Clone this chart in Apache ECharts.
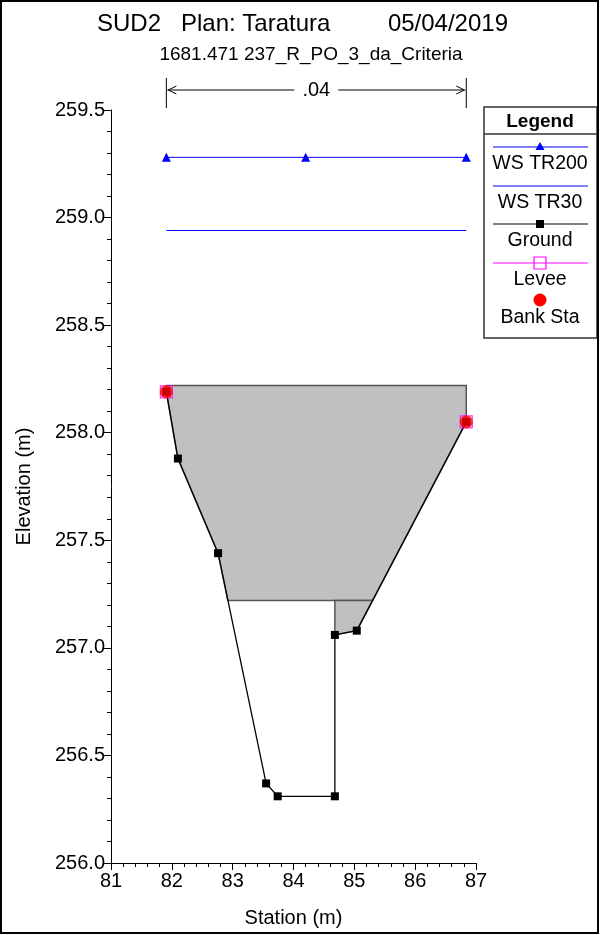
<!DOCTYPE html>
<html><head><meta charset="utf-8">
<script src="https://cdn.jsdelivr.net/npm/echarts/dist/echarts.min.js"></script>
<style>html,body{margin:0;padding:0;background:#fff}#c{width:600px;height:935px}</style>
</head><body><div id="c"></div>
<script>
// ---- data ----
const titleParts = ['SUD2', 'Plan: Taratura', '05/04/2019'];
const subtitle = '1681.471 237_R_PO_3_da_Criteria';
const xMin = 81, xMax = 87, xStep = 1;
const yMin = 256.0, yMax = 259.5, yStep = 0.5;
const groundX = [81.91, 82.10, 82.76, 83.55, 83.74, 84.68, 84.68, 85.04, 86.84];
const groundY = [258.19, 257.88, 257.44, 256.37, 256.31, 256.31, 257.06, 257.08, 258.05];
const wsTR200X = [81.91, 84.20, 86.84];
const wsTR200Y = [259.28, 259.28, 259.28];
const wsTR30X = [81.91, 86.84];
const wsTR30Y = [258.94, 258.94];
const leveeX = [81.91, 86.84];
const leveeY = [258.19, 258.05];
const bankX = [81.91, 86.84];
const bankY = [258.19, 258.05];
// blocked area (deck) polygons
const deckUpperX = [81.91, 86.84, 86.84, 85.30, 82.92, 82.76, 82.10, 81.91];
const deckUpperY = [258.22, 258.22, 258.05, 257.22, 257.22, 257.44, 257.88, 258.19];
const deckLowerX = [84.68, 85.30, 85.04, 84.68];
const deckLowerY = [257.22, 257.22, 257.08, 257.06];
const nValues = ['.04'];
const nBounds = [81.91, 86.84];
const legendNames = ['WS TR200', 'WS TR30', 'Ground', 'Levee', 'Bank Sta'];

const zip = (a, b) => a.map((v, i) => [v, b[i]]);
const FONT = '"Liberation Sans", Arial, sans-serif';
const chart = echarts.init(document.getElementById('c'), null, {renderer: 'canvas'});

const legendTop = 107, legendLeft = 484, legendW = 113, legendH = 231;
const lx0 = 493, lx1 = 588, lcx = 540;
const itemLineY = [147, 186, 224, 263, 300];
const itemTextY = [164, 203, 241, 280, 318];

const txt = (text, x, y, size, align, extra) => ({type: 'text', z: 51, style: Object.assign({text, x, y, font: size + 'px ' + FONT, fill: '#000', textAlign: align, textVerticalAlign: 'middle', verticalAlign: 'middle'}, extra || {})});

const graphics = [
  {type: 'rect', shape: {x: 1, y: 1, width: 597, height: 932}, style: {fill: null, stroke: '#000', lineWidth: 2}, z: 100},
  txt(titleParts[0], 97, 24, 24, 'left'),
  txt(titleParts[1], 181, 24, 24, 'left'),
  txt(titleParts[2], 508, 24, 24, 'right'),
  txt(subtitle, 311, 55, 19, 'center'),
  // legend box
  {type: 'rect', shape: {x: legendLeft, y: legendTop, width: legendW, height: legendH}, style: {fill: '#fff', stroke: '#333', lineWidth: 1.5}, z: 50},
  {type: 'line', shape: {x1: legendLeft, y1: 134, x2: legendLeft + legendW, y2: 134}, style: {stroke: '#333', lineWidth: 1.5}, z: 51},
  Object.assign(txt('Legend', lcx, 122, 18, 'center'), {}),
];
graphics[graphics.length - 1].style.font = 'bold 19px ' + FONT;
legendNames.forEach((n, i) => graphics.push(txt(n, lcx, itemTextY[i], 19.5, 'center')));
// legend sample lines / symbols
graphics.push({type: 'line', shape: {x1: lx0, y1: itemLineY[0], x2: lx1, y2: itemLineY[0]}, style: {stroke: '#0000ff', lineWidth: 1}, z: 51});
graphics.push({type: 'polygon', shape: {points: [[lcx, itemLineY[0] - 5], [lcx - 4.5, itemLineY[0] + 3], [lcx + 4.5, itemLineY[0] + 3]]}, style: {fill: '#0000ff'}, z: 52});
graphics.push({type: 'line', shape: {x1: lx0, y1: itemLineY[1], x2: lx1, y2: itemLineY[1]}, style: {stroke: '#0000ff', lineWidth: 1}, z: 51});
graphics.push({type: 'line', shape: {x1: lx0, y1: itemLineY[2], x2: lx1, y2: itemLineY[2]}, style: {stroke: '#000', lineWidth: 1}, z: 51});
graphics.push({type: 'rect', shape: {x: lcx - 4, y: itemLineY[2] - 4, width: 8, height: 8}, style: {fill: '#000'}, z: 52});
graphics.push({type: 'line', shape: {x1: lx0, y1: itemLineY[3], x2: lx1, y2: itemLineY[3]}, style: {stroke: '#ff00ff', lineWidth: 1}, z: 51});
graphics.push({type: 'rect', shape: {x: lcx - 6, y: itemLineY[3] - 6, width: 12, height: 12}, style: {fill: 'rgba(0,0,0,0)', stroke: '#ff00ff', lineWidth: 1.2}, z: 52});
graphics.push({type: 'circle', shape: {cx: lcx, cy: itemLineY[4], r: 6.5}, style: {fill: '#ff0000'}, z: 52});

const polySeries = (name, xs, ys) => ({
  type: 'custom', name, z: 1, data: [0],
  renderItem: (params, api) => ({
    type: 'polygon',
    shape: {points: xs.map((x, i) => api.coord([x, ys[i]]))},
    style: {fill: '#c0c0c0', stroke: '#555', lineWidth: 1.5}
  })
});

const option = {
  animation: false,
  backgroundColor: '#fff',
  textStyle: {fontFamily: FONT},
  grid: {left: 111, right: 124, top: 110, bottom: 72, containLabel: false},
  xAxis: {
    type: 'value', min: xMin, max: xMax, interval: xStep,
    name: 'Station (m)', nameLocation: 'middle', nameGap: 45,
    nameTextStyle: {fontSize: 20, color: '#000', fontFamily: FONT},
    axisLine: {onZero: false, lineStyle: {color: '#000', width: 1}},
    axisTick: {inside: false, length: 7, lineStyle: {color: '#000'}},
    minorTick: {show: true, splitNumber: 5, length: 4, lineStyle: {color: '#000'}},
    axisLabel: {fontSize: 20, color: '#000', margin: 8, fontFamily: FONT},
    splitLine: {show: false}
  },
  yAxis: {
    type: 'value', min: yMin, max: yMax, interval: yStep,
    name: 'Elevation (m)', nameLocation: 'middle', nameGap: 77, nameRotate: 90,
    nameTextStyle: {fontSize: 20, color: '#000', fontFamily: FONT},
    axisLine: {show: true, onZero: false, lineStyle: {color: '#000', width: 1}},
    axisTick: {show: true, inside: false, length: 7, lineStyle: {color: '#000'}},
    minorTick: {show: true, splitNumber: 5, length: 4, lineStyle: {color: '#000'}},
    axisLabel: {fontSize: 20, color: '#000', margin: 6, fontFamily: FONT, formatter: v => v.toFixed(1)},
    splitLine: {show: false}
  },
  graphic: graphics,
  series: [
    polySeries('deck', deckUpperX, deckUpperY),
    polySeries('deck2', deckLowerX, deckLowerY),
    {type: 'line', name: 'WS TR200', data: zip(wsTR200X, wsTR200Y), z: 3,
      lineStyle: {color: '#0000ff', width: 1}, itemStyle: {color: '#0000ff'},
      symbol: 'triangle', symbolSize: 9, showAllSymbol: true},
    {type: 'line', name: 'WS TR30', data: zip(wsTR30X, wsTR30Y), z: 3,
      lineStyle: {color: '#0000ff', width: 1}, symbol: 'none'},
    {type: 'line', name: 'Ground', data: zip(groundX, groundY), z: 4,
      lineStyle: {color: '#000', width: 1.3}, itemStyle: {color: '#000'},
      symbol: 'rect', symbolSize: 8, showAllSymbol: true},
    {type: 'scatter', name: 'Levee', data: zip(leveeX, leveeY), z: 5,
      symbol: 'rect', symbolSize: 12,
      itemStyle: {color: 'rgba(0,0,0,0)', borderColor: '#ff00ff', borderWidth: 1.2}},
    {type: 'scatter', name: 'Bank Sta', data: zip(bankX, bankY), z: 6,
      symbol: 'circle', symbolSize: 13, itemStyle: {color: '#ff0000'}}
  ]
};
chart.setOption(option);

// Manning's n annotation above the plot
const p0 = chart.convertToPixel({xAxisIndex: 0}, nBounds[0]);
const p1 = chart.convertToPixel({xAxisIndex: 0}, nBounds[1]);
const mid = (p0 + p1) / 2, ay = 90;
const ann = [
  {type: 'line', shape: {x1: p0, y1: 78, x2: p0, y2: 108}, style: {stroke: '#000', lineWidth: 1}},
  {type: 'line', shape: {x1: p1, y1: 78, x2: p1, y2: 108}, style: {stroke: '#000', lineWidth: 1}},
  {type: 'line', shape: {x1: p0 + 1, y1: ay, x2: mid - 22, y2: ay}, style: {stroke: '#000', lineWidth: 1}},
  {type: 'line', shape: {x1: mid + 22, y1: ay, x2: p1 - 1, y2: ay}, style: {stroke: '#000', lineWidth: 1}},
  {type: 'polyline', shape: {points: [[p0 + 10, ay - 4], [p0 + 2, ay], [p0 + 10, ay + 4]]}, style: {stroke: '#000', lineWidth: 1, fill: null}},
  {type: 'polyline', shape: {points: [[p1 - 10, ay - 4], [p1 - 2, ay], [p1 - 10, ay + 4]]}, style: {stroke: '#000', lineWidth: 1, fill: null}},
  txt(nValues[0], mid, ay, 20, 'center')
];
chart.setOption({graphic: graphics.concat(ann)});
</script>
</body></html>
